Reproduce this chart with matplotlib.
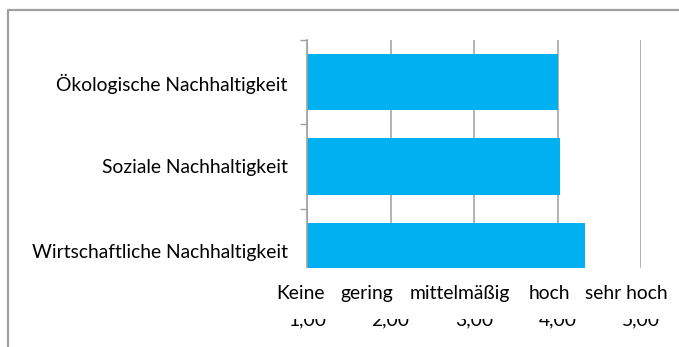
import matplotlib.pyplot as plt
from matplotlib.lines import Line2D
from matplotlib.patches import Rectangle

# Bewertung der Nachhaltigkeitsdimensionen (1 = keine ... 5 = sehr hoch)
categories = ["Ökologische Nachhaltigkeit", "Soziale Nachhaltigkeit", "Wirtschaftliche Nachhaltigkeit"]
values = [4.00, 4.03, 4.33]
tick_values = [1, 2, 3, 4, 5]
tick_labels = ["1,00", "2,00", "3,00", "4,00", "5,00"]
scale_labels = ["Keine", "gering", "mittelmäßig", "hoch", "sehr hoch"]

W, H = 679, 347
plt.rcParams['font.family'] = ['Lato', 'DejaVu Sans']
FS = 13.9

fig = plt.figure(figsize=(W / 100, H / 100), dpi=100)
fig.patch.set_facecolor('white')

# plot area in pixels: x 307..641, y 40..293 (from top)
ax = fig.add_axes([307 / W, (H - 293) / H, (641 - 307) / W, (293 - 40) / H])

ypos = list(range(len(categories)))
ax.barh(ypos, values, height=0.665, left=0, color='#00B0F0', zorder=2)
ax.set_xlim(1, 5)
ax.set_ylim(len(categories) - 0.5, -0.5)

ax.set_yticks(ypos)
ax.set_yticklabels(categories, fontsize=FS, color='black')
ax.tick_params(axis='y', which='major', length=0, pad=14)
ax.set_yticks([-0.5, 0.5, 1.5, 2.5], minor=True)
ax.tick_params(axis='y', which='minor', length=5, width=1, color='#a0a0a0', direction='out')

ax.set_xticks(tick_values)
ax.set_xticklabels(tick_labels, fontsize=FS, color='black')
ax.tick_params(axis='x', length=0, pad=13)

ax.grid(axis='x', color='#a6a6a6', linewidth=1.2, zorder=1)
for side in ['top', 'right', 'bottom']:
    ax.spines[side].set_visible(False)
ax.spines['left'].set_color('#a0a0a0')
ax.spines['left'].set_linewidth(1.2)
ax.spines['left'].set_zorder(3)

# label box overlaying the lower part of the axis
fig.add_artist(Rectangle((250 / W, (H - 319) / H), (W - 250) / W, 51 / H,
                         transform=fig.transFigure, facecolor='white',
                         edgecolor='none', zorder=5))
label_x = [300, 367, 460, 549, 626]
for x, lab in zip(label_x, scale_labels):
    fig.text(x / W, (H - 299) / H, lab, ha='center', va='baseline',
             fontsize=FS, color='black', zorder=6)

# chart frame (left and top edges)
frame = Line2D([8 / W, 8 / W, 1.0], [0.0, (H - 10) / H, (H - 10) / H],
               transform=fig.transFigure, color='#a0a0a0', linewidth=1.6, zorder=7)
fig.add_artist(frame)

fig.savefig('out.png', dpi=100, facecolor='white')
